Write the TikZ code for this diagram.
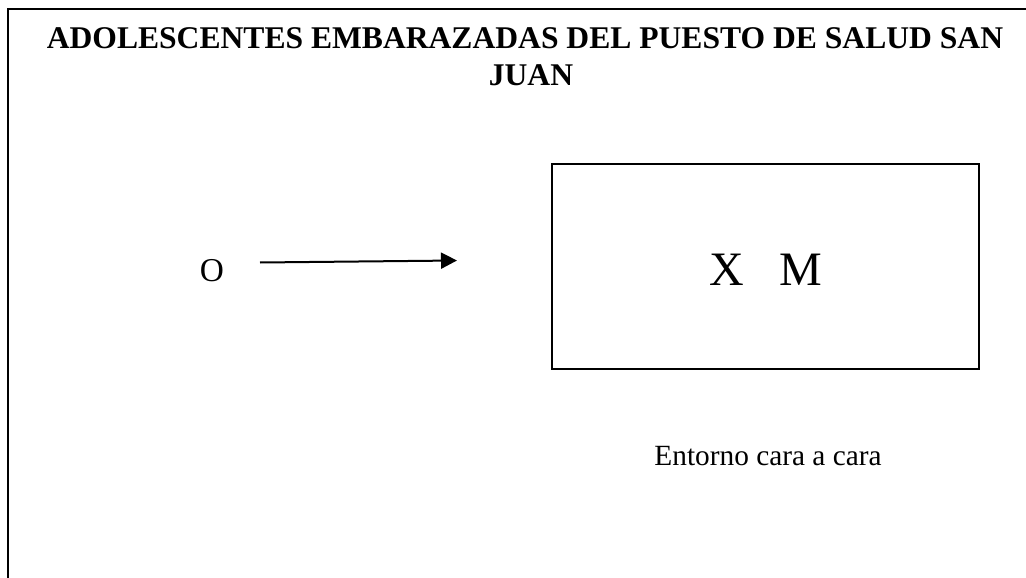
\documentclass[tikz,border=0pt]{standalone}
\usepackage{fontspec}
\setmainfont{Liberation Serif}
\usetikzlibrary{arrows.meta}
\begin{document}
\begin{tikzpicture}[x=0.75pt,y=-0.75pt,
  frameline/.style={line width=1.5pt,draw=black},
  boxline/.style={line width=0.8pt,draw=black},
  titletext/.style={font=\bfseries\fontsize{23.7}{28}\selectfont,anchor=base,inner sep=0pt},
  plaintext/.style={font=\fontsize{22}{26}\selectfont,anchor=base,inner sep=0pt},
  arrowline/.style={line width=1.5pt,-{Triangle[length=12pt,width=12pt]}}]
\useasboundingbox (0,0) rectangle (1026,578);
% outer frame (only top and left visible)
\coordinate (fbl) at (8,580);
\coordinate (ftl) at (8,9);
\coordinate (ftr) at (1030,9);
\draw[frameline] (fbl) -- (ftl) -- (ftr);
% title
\node[titletext] (title1) at (525,48) {ADOLESCENTES EMBARAZADAS DEL PUESTO DE SALUD SAN};
\node[titletext] (title2) at (531,85) {JUAN};
% O and arrow
\node[font=\fontsize{25}{29}\selectfont,anchor=base,inner sep=0pt] (o) at (212,281) {O};
\coordinate (astart) at (260,262.5);
\coordinate (aend) at (457,260.5);
\draw[arrowline] (astart) -- (aend);
% box
\node[boxline,minimum width=427*0.75pt,minimum height=205*0.75pt,inner sep=0pt] (box) at (765.5,266.5) {};
\node[font=\fontsize{36}{40}\selectfont,anchor=base,inner sep=0pt] (xm) at (766,285) {X\hspace{0.75em}M};
% caption
\node[plaintext] (entorno) at (768,465) {Entorno cara a cara};
\end{tikzpicture}
\end{document}
